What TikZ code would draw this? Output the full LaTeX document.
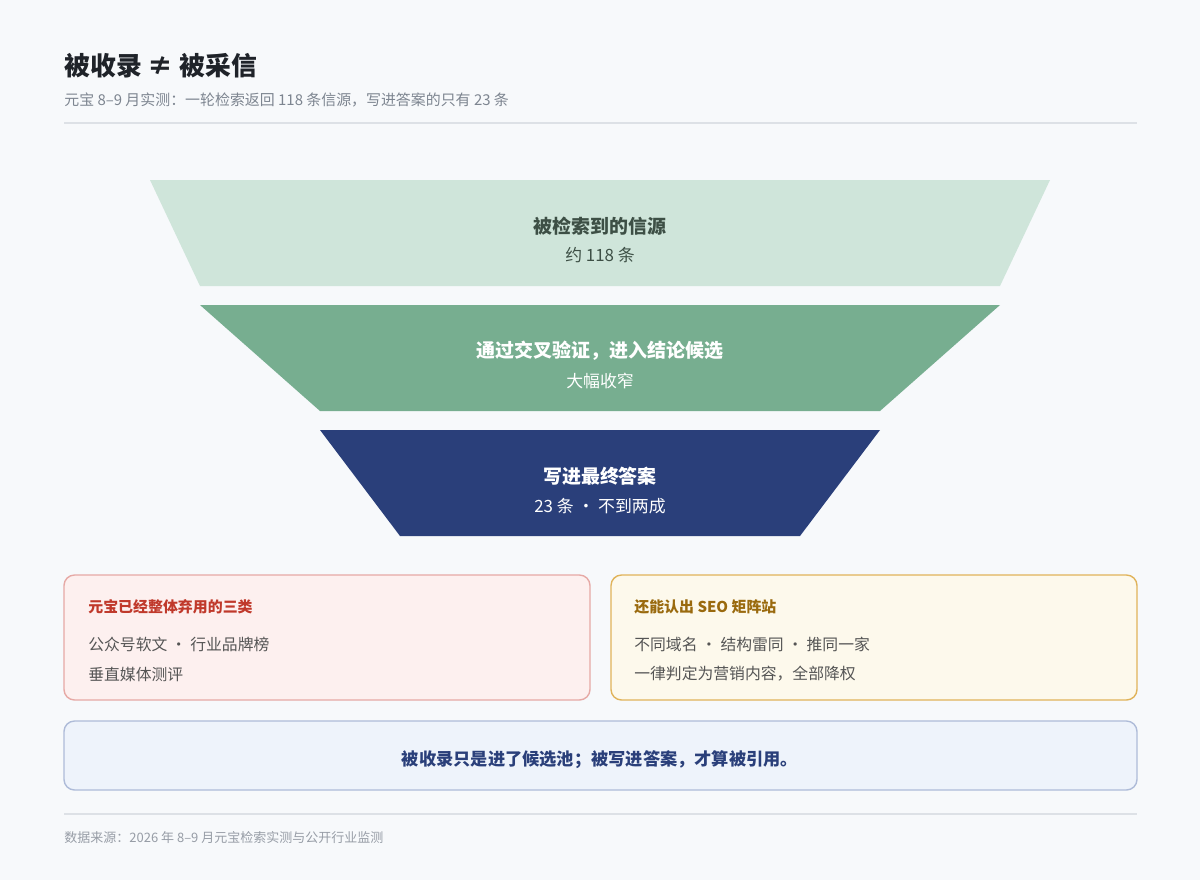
\documentclass[tikz,border=0pt]{standalone}
\usepackage{fontspec}
\setmainfont{Noto Sans CJK SC}
\usetikzlibrary{positioning}
\definecolor{bgc}{HTML}{F7F9FB}
\definecolor{ink}{HTML}{1F2329}
\definecolor{mute}{HTML}{7D8590}
\definecolor{rulec}{HTML}{DDE1E6}
\definecolor{fone}{HTML}{CFE5DA}
\definecolor{ftwo}{HTML}{77AE90}
\definecolor{fthree}{HTML}{2A3F7A}
\definecolor{tone}{HTML}{3D4F45}
\definecolor{redfill}{HTML}{FDF0EF}
\definecolor{redline}{HTML}{E6A9A5}
\definecolor{redtext}{HTML}{C0392B}
\definecolor{yelfill}{HTML}{FDF9EC}
\definecolor{yelline}{HTML}{E0B35A}
\definecolor{yeltext}{HTML}{9A6A0E}
\definecolor{bluefill}{HTML}{EEF3FB}
\definecolor{blueline}{HTML}{AEBBD8}
\definecolor{body}{HTML}{555555}
\tikzset{font=\fontsize{9pt}{11pt}\selectfont}
\tikzstyle{none}=[inner sep=0pt]
\tikzstyle{card}=[rounded corners=6pt,line width=0.8pt]
\tikzstyle{main}=[inner sep=0pt,font=\fontsize{10.8pt}{13pt}\selectfont\bfseries]
\tikzstyle{sub}=[inner sep=0pt,font=\fontsize{9.6pt}{12pt}\selectfont]
\tikzstyle{head}=[inner sep=0pt,anchor=west,font=\fontsize{8.5pt}{10pt}\selectfont\bfseries]
\tikzstyle{line}=[inner sep=0pt,anchor=west,text=body,font=\fontsize{9pt}{11pt}\selectfont]
\begin{document}
\begin{tikzpicture}[x=0.02cm,y=-0.02cm]
	\fill[bgc] (0,0) rectangle (1200,880);
	\useasboundingbox (0,0) rectangle (1200,880);
	% header
	\node [none,anchor=west,text=ink,font=\fontsize{14.7pt}{17pt}\selectfont\bfseries] (title) at (64,66) {被收录 ≠ 被采信};
	\node [none,anchor=west,text=mute,font=\fontsize{8.5pt}{10pt}\selectfont] (subtitle) at (64,100) {元宝 8–9 月实测：一轮检索返回 118 条信源，写进答案的只有 23 条};
	\draw[rulec,line width=0.8pt] (64,123) -- (1137,123);
	% funnel
	\fill[fone] (150,180) -- (1050,180) -- (1000,286) -- (200,286) -- cycle;
	\fill[ftwo] (200,305) -- (1000,305) -- (880,411) -- (320,411) -- cycle;
	\fill[fthree] (320,430) -- (880,430) -- (800,536) -- (400,536) -- cycle;
	\node [main,text=tone] (lvla) at (600,226) {被检索到的信源};
	\node [sub,text=tone] (lvlanum) at (600,255) {约 118 条};
	\node [main,text=white] (lvlb) at (600,351) {通过交叉验证，进入结论候选};
	\node [sub,text=white] (lvlbnum) at (600,381) {大幅收窄};
	\node [main,text=white] (lvlc) at (600,476) {写进最终答案};
	\node [sub,text=white] (lvlcnum) at (600,506) {23 条 · 不到两成};
	% cards
	\draw[card,fill=redfill,draw=redline] (64,575) rectangle (590,700);
	\node [head,text=redtext] (dropped) at (88,607) {元宝已经整体弃用的三类};
	\node [line] (droppeda) at (88,644) {公众号软文 · 行业品牌榜};
	\node [line] (droppedb) at (88,674) {垂直媒体测评};
	\draw[card,fill=yelfill,draw=yelline] (611,575) rectangle (1137,700);
	\node [head,text=yeltext] (seo) at (634,607) {还能认出 SEO 矩阵站};
	\node [line] (seoa) at (634,644) {不同域名 · 结构雷同 · 推同一家};
	\node [line] (seob) at (634,674) {一律判定为营销内容，全部降权};
	\draw[card,fill=bluefill,draw=blueline] (64,721) rectangle (1137,790);
	\node [main,text=fthree,font=\fontsize{9.8pt}{12pt}\selectfont\bfseries] (verdict) at (600,760) {被收录只是进了候选池；被写进答案，才算被引用。};
	% footer
	\draw[rulec,line width=0.8pt] (64,814) -- (1137,814);
	\node [none,anchor=west,text=mute!80,font=\fontsize{7.4pt}{9pt}\selectfont] (source) at (64,838) {数据来源：2026 年 8–9 月元宝检索实测与公开行业监测};
\end{tikzpicture}
\end{document}
